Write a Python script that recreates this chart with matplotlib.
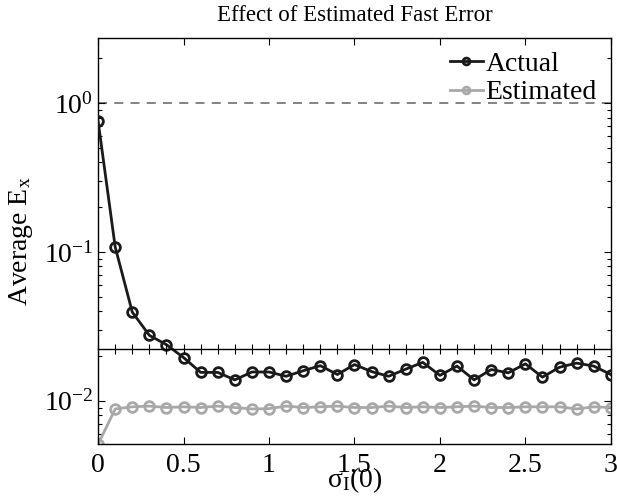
import numpy as np
import matplotlib
matplotlib.use("Agg")
import matplotlib.pyplot as plt
from matplotlib.ticker import LogLocator, NullFormatter, MultipleLocator

plt.rcParams['font.family'] = ['Liberation Serif', 'DejaVu Serif']
plt.rcParams['mathtext.fontset'] = 'custom'
plt.rcParams['mathtext.rm'] = 'Liberation Serif'
plt.rcParams['mathtext.it'] = 'Liberation Serif:italic'

# --- datos ---
sigma = np.round(np.arange(0, 3.01, 0.1), 1)
actual = [0.757, 0.108, 0.0394, 0.0275, 0.0238, 0.0195, 0.0155, 0.0155, 0.0138,
          0.0156, 0.0156, 0.0146, 0.0159, 0.0172, 0.0150, 0.0175, 0.0157, 0.0146,
          0.0163, 0.0181, 0.0148, 0.0171, 0.0138, 0.0162, 0.0154, 0.0177, 0.0144,
          0.0168, 0.0179, 0.0171, 0.0150]
estimado = [0.0051, 0.0088, 0.0091, 0.0092, 0.0090, 0.0091, 0.0090, 0.0092, 0.0090,
            0.0088, 0.00885, 0.0092, 0.0090, 0.0091, 0.0092, 0.0090, 0.0090, 0.0092,
            0.0090, 0.0091, 0.0090, 0.0091, 0.0092, 0.0090, 0.0090, 0.0091, 0.0091,
            0.0091, 0.0088, 0.0091, 0.0090]
umbral = 1.0
corte = 0.0224
YMIN, YMAX = 0.0051, 2.75

NEGRO = "#1a1a1a"
GRIS = "#a8a8a8"

fig = plt.figure(figsize=(6.17, 4.98), dpi=100)
ax = fig.add_axes([0.159, 0.108, 0.831, 0.816])

ax.axhline(umbral, color="#7a7a7a", ls=(0, (5, 4)), lw=1.3, zorder=1)
ax.plot(sigma, actual, '-o', color=NEGRO, lw=2, ms=7, mew=2,
        mfc='none', label='Actual', zorder=3)
ax.plot(sigma, estimado, '-o', color=GRIS, lw=2, ms=7, mew=2,
        mfc='none', label='Estimated', zorder=2)

ax.set_yscale('log')
ax.set_xlim(0, 3)
ax.set_ylim(YMIN, YMAX)
ax.xaxis.set_major_locator(MultipleLocator(0.5))
ax.xaxis.set_major_formatter(plt.FuncFormatter(lambda v, p: f"{v:g}"))
ax.yaxis.set_major_locator(LogLocator(base=10))
ax.yaxis.set_minor_locator(LogLocator(base=10, subs=np.arange(2, 10)))
ax.yaxis.set_minor_formatter(NullFormatter())
ax.tick_params(which='both', direction='in', top=True, right=True,
               labelsize=20, width=0.8)
ax.tick_params(axis='x', pad=6)
ax.tick_params(which='major', length=5)
ax.tick_params(which='minor', length=3)
for s in ax.spines.values():
    s.set_linewidth(1.0)

ax.set_title("Effect of Estimated Fast Error", fontsize=16.5, pad=12)
ax.set_ylabel(r"Average E$_\mathrm{x}$", fontsize=20, labelpad=6)
ax.set_xlabel(r"$\mathrm{\sigma_I(0)}$", fontsize=20, labelpad=-9)

leg = ax.legend(loc='upper right', frameon=False, fontsize=20,
                handlelength=1.2, handletextpad=0.1, markerscale=0.7,
                borderaxespad=0.1, labelspacing=0.1)

# eje secundario: línea de corte con marcas cada 0.1
frac = (np.log10(corte) - np.log10(YMIN)) / (np.log10(YMAX) - np.log10(YMIN))
ax2 = ax.inset_axes([0, 0, 1, frac])
ax2.patch.set_alpha(0)
ax2.set_xlim(0, 3)
ax2.set_yticks([])
for lado in ('left', 'right', 'bottom'):
    ax2.spines[lado].set_visible(False)
ax2.spines['top'].set_linewidth(1.0)
ax2.xaxis.set_major_locator(MultipleLocator(0.1))
ax2.tick_params(axis='x', top=True, bottom=False, labeltop=False,
                labelbottom=False, direction='inout', length=7, width=0.8)

fig.savefig("out.png", dpi=100)
